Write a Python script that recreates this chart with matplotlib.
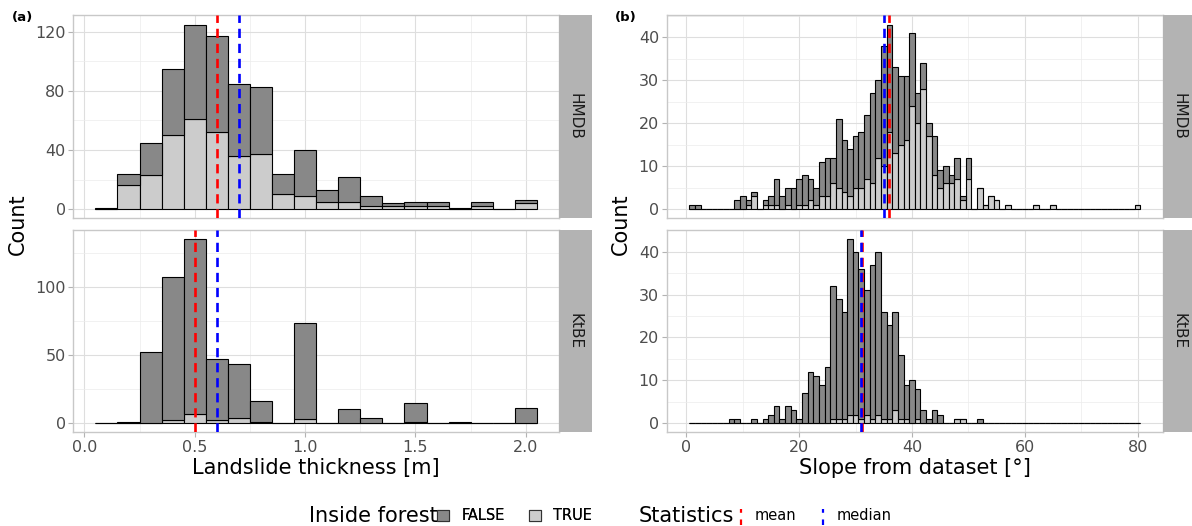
import numpy as np
import matplotlib
matplotlib.use("Agg")
import matplotlib.pyplot as plt
from matplotlib.patches import Patch
from matplotlib.lines import Line2D
from matplotlib.legend_handler import HandlerBase

# ---- data (counts) ----
thick_bins = [0.1, 0.2, 0.3, 0.4, 0.5, 0.6, 0.7, 0.8, 0.9, 1.0,
              1.1, 1.2, 1.3, 1.4, 1.5, 1.6, 1.7, 1.8, 1.9, 2.0]
thick_hmdb_total = [1, 24, 45, 95, 125, 117, 85, 83, 24, 40, 13, 22, 9, 4, 5, 5, 1, 5, 0, 6]
thick_hmdb_true = [0, 16, 23, 50, 61, 52, 36, 37, 10, 9, 5, 5, 2, 2, 2, 2, 0, 2, 0, 4]
thick_ktbe_total = [0, 1, 52, 107, 135, 47, 43, 16, 0, 73, 0, 10, 4, 0, 15, 0, 1, 0, 0, 11]
thick_ktbe_true = [0, 0, 0, 2, 7, 2, 4, 1, 0, 3, 0, 0, 0, 0, 1, 0, 0, 0, 0, 0]

slope_bins = list(range(1, 81))
slope_hmdb_total = [1, 1, 0, 0, 0, 0, 0, 0, 2, 3,
                    2, 4, 0, 2, 3, 7, 3, 5, 5, 7,
                    8, 7, 5, 11, 12, 12, 21, 16, 14, 17,
                    18, 22, 27, 30, 38, 43, 33, 31, 31, 41,
                    27, 34, 20, 17, 9, 10, 8, 12, 3, 12,
                    0, 5, 1, 3, 2, 0, 1, 0, 0, 0,
                    0, 1, 0, 0, 1, 0, 0, 0, 0, 0,
                    0, 0, 0, 0, 0, 0, 0, 0, 0, 1]
slope_hmdb_true = [0, 0, 0, 0, 0, 0, 0, 0, 0, 0,
                   1, 3, 0, 1, 1, 1, 0, 1, 0, 1,
                   1, 2, 1, 3, 3, 6, 5, 4, 3, 5,
                   5, 7, 6, 12, 10, 18, 13, 15, 16, 24,
                   20, 28, 17, 8, 5, 6, 6, 7, 2, 7,
                   0, 5, 1, 3, 2, 0, 1, 0, 0, 0,
                   0, 1, 0, 0, 1, 0, 0, 0, 0, 0,
                   0, 0, 0, 0, 0, 0, 0, 0, 0, 1]
slope_ktbe_total = [0, 0, 0, 0, 0, 0, 0, 1, 1, 0,
                    0, 1, 0, 1, 2, 4, 1, 4, 3, 1,
                    7, 12, 11, 9, 13, 32, 29, 26, 43, 40,
                    36, 31, 37, 40, 26, 23, 26, 16, 9, 10,
                    8, 3, 1, 3, 2, 0, 0, 1, 1, 0,
                    0, 1, 0, 0, 0, 0, 0, 0, 0, 0,
                    0, 0, 0, 0, 0, 0, 0, 0, 0, 0,
                    0, 0, 0, 0, 0, 0, 0, 0, 0, 0]
slope_ktbe_true = [0, 0, 0, 0, 0, 0, 0, 0, 0, 0,
                   0, 0, 0, 0, 0, 0, 0, 0, 0, 0,
                   0, 0, 0, 0, 0, 1, 1, 1, 2, 2,
                   1, 2, 1, 2, 1, 1, 3, 1, 1, 0,
                   1, 0, 0, 0, 0, 0, 0, 1, 1, 0,
                   0, 0, 0, 0, 0, 0, 0, 0, 0, 0,
                   0, 0, 0, 0, 0, 0, 0, 0, 0, 0,
                   0, 0, 0, 0, 0, 0, 0, 0, 0, 0]

# mean / median per panel
thick_mean = {"HMDB": 0.6, "KtBE": 0.5}
thick_median = {"HMDB": 0.7, "KtBE": 0.6}
slope_mean = {"HMDB": 36.0, "KtBE": 31.15}
slope_median = {"HMDB": 35.0, "KtBE": 31.0}

col_false = "#888888"
col_true = "#cccccc"
W, H = 1192, 526

fig = plt.figure(figsize=(W / 100, H / 100), dpi=100)


def fx(px):
    return px / W


def fy(py):
    return 1 - py / H


def panel(x0, x1, y0, y1):
    return fig.add_axes([fx(x0), fy(y1), fx(x1 - x0), (y1 - y0) / H])


def strip(x0, y0, y1, label):
    s = fig.add_axes([fx(x0), fy(y1), fx(33), (y1 - y0) / H])
    s.set_facecolor("#b3b3b3")
    s.set_xticks([])
    s.set_yticks([])
    for sp in s.spines.values():
        sp.set_visible(False)
    s.text(0.5, 0.5, label, rotation=-90, ha="center", va="center",
           fontsize=11, color="#1a1a1a", transform=s.transAxes)


def hist(ax, bins, total, forest, bw, mean, median):
    bins = np.array(bins)
    total = np.array(total)
    forest = np.array(forest)
    ax.bar(bins, forest, width=bw, color=col_true, edgecolor="black", lw=0.8, zorder=2)
    ax.bar(bins, total - forest, bottom=forest, width=bw, color=col_false,
           edgecolor="black", lw=0.8, zorder=2)
    ax.axvline(mean, color="red", lw=1.9, ls=(0, (3.5, 2.2)), zorder=3)
    ax.axvline(median, color="blue", lw=1.9, ls=(0, (3.5, 2.2)), zorder=3)


def style(ax, xlim, xmaj, xmin, ymax, ymaj, ymin, show_x):
    ax.set_xlim(*xlim)
    ax.set_ylim(-0.05 * ymax, 1.05 * ymax)
    ax.set_xticks(xmaj)
    ax.set_xticks(xmin, minor=True)
    ax.set_yticks(ymaj)
    ax.set_yticks(ymin, minor=True)
    ax.set_axisbelow(True)
    ax.grid(which="major", color="#dedede", lw=0.8)
    ax.grid(which="minor", color="#ececec", lw=0.5)
    for sp in ax.spines.values():
        sp.set_color("#c8c8c8")
        sp.set_linewidth(1.0)
    ax.tick_params(which="major", color="#b3b3b3", length=3.5, width=0.8,
                   labelcolor="#4d4d4d", labelsize=11.5, pad=2)
    ax.tick_params(which="minor", length=0)
    if not show_x:
        ax.tick_params(axis="x", which="major", length=0, labelbottom=False)


# left column
axa1 = panel(73.3, 559, 15.3, 218.3)
hist(axa1, thick_bins, thick_hmdb_total, thick_hmdb_true, 0.1,
     thick_mean["HMDB"], thick_median["HMDB"])
style(axa1, (-0.05, 2.15), [0, 0.5, 1.0, 1.5, 2.0], [0.25, 0.75, 1.25, 1.75],
      max(thick_hmdb_total), [0, 40, 80, 120], [20, 60, 100], False)
strip(559, 15.3, 218.3, "HMDB")

axa2 = panel(73.3, 559, 229.7, 432.3)
hist(axa2, thick_bins, thick_ktbe_total, thick_ktbe_true, 0.1,
     thick_mean["KtBE"], thick_median["KtBE"])
style(axa2, (-0.05, 2.15), [0, 0.5, 1.0, 1.5, 2.0], [0.25, 0.75, 1.25, 1.75],
      max(thick_ktbe_total), [0, 50, 100], [25, 75, 125], True)
axa2.set_xticklabels(["0.0", "0.5", "1.0", "1.5", "2.0"])
axa2.set_xlabel("Landslide thickness [m]", fontsize=15, labelpad=2)
strip(559, 229.7, 432.3, "KtBE")

# right column
axb1 = panel(666.7, 1163, 15.3, 218.3)
hist(axb1, slope_bins, slope_hmdb_total, slope_hmdb_true, 1.0,
     slope_mean["HMDB"], slope_median["HMDB"])
style(axb1, (-3.5, 84.5), [0, 20, 40, 60, 80], [10, 30, 50, 70],
      max(slope_hmdb_total), [0, 10, 20, 30, 40], [5, 15, 25, 35, 45], False)
strip(1163, 15.3, 218.3, "HMDB")

axb2 = panel(666.7, 1163, 229.7, 432.3)
hist(axb2, slope_bins, slope_ktbe_total, slope_ktbe_true, 1.0,
     slope_mean["KtBE"], slope_median["KtBE"])
style(axb2, (-3.5, 84.5), [0, 20, 40, 60, 80], [10, 30, 50, 70],
      max(slope_ktbe_total), [0, 10, 20, 30, 40], [5, 15, 25, 35, 45], True)
axb2.set_xlabel("Slope from dataset [°]", fontsize=15, labelpad=2)
strip(1163, 229.7, 432.3, "KtBE")

# y labels and panel tags
fig.text(fx(18), fy(224), "Count", rotation=90, ha="center", va="center", fontsize=15)
fig.text(fx(621), fy(224), "Count", rotation=90, ha="center", va="center", fontsize=15)
fig.text(fx(12), fy(17), "(a)", fontsize=9.5, fontweight="bold", ha="left", va="center")
fig.text(fx(615), fy(17), "(b)", fontsize=9.5, fontweight="bold", ha="left", va="center")


# legend
class VDashHandler(HandlerBase):
    def create_artists(self, legend, orig_handle, xdescent, ydescent,
                       width, height, fontsize, trans):
        x = width / 2 - xdescent
        ln = Line2D([x, x], [-ydescent - 3, height - ydescent + 1],
                    color=orig_handle.get_color(), lw=1.6, ls=(0, (2.5, 3.0)))
        ln.set_transform(trans)
        return [ln]


ly = fy(516)
fig.text(fx(309), ly, "Inside forest", fontsize=15, ha="left", va="center")
leg1 = fig.legend(handles=[Patch(fc=col_false, ec="#333333", lw=0.8),
                           Patch(fc=col_true, ec="#333333", lw=0.8)],
                  labels=["FALSE", "TRUE"], ncol=2, loc="center left",
                  bbox_to_anchor=(fx(437), ly), frameon=False, fontsize=10.5,
                  handlelength=0.85, handleheight=0.85, handletextpad=0.85,
                  columnspacing=1.6, borderpad=0, borderaxespad=0)
fig.text(fx(639), ly, "Statistics", fontsize=15, ha="left", va="center")
leg2 = fig.legend(handles=[Line2D([], [], color="red"), Line2D([], [], color="blue")],
                  labels=["mean", "median"], ncol=2, loc="center left",
                  bbox_to_anchor=(fx(734), ly), frameon=False, fontsize=10.5,
                  handlelength=0.9, handletextpad=0.5, columnspacing=1.4,
                  borderpad=0, borderaxespad=0,
                  handler_map={Line2D: VDashHandler()})
fig.add_artist(leg1)

fig.savefig("out.png", dpi=100)
